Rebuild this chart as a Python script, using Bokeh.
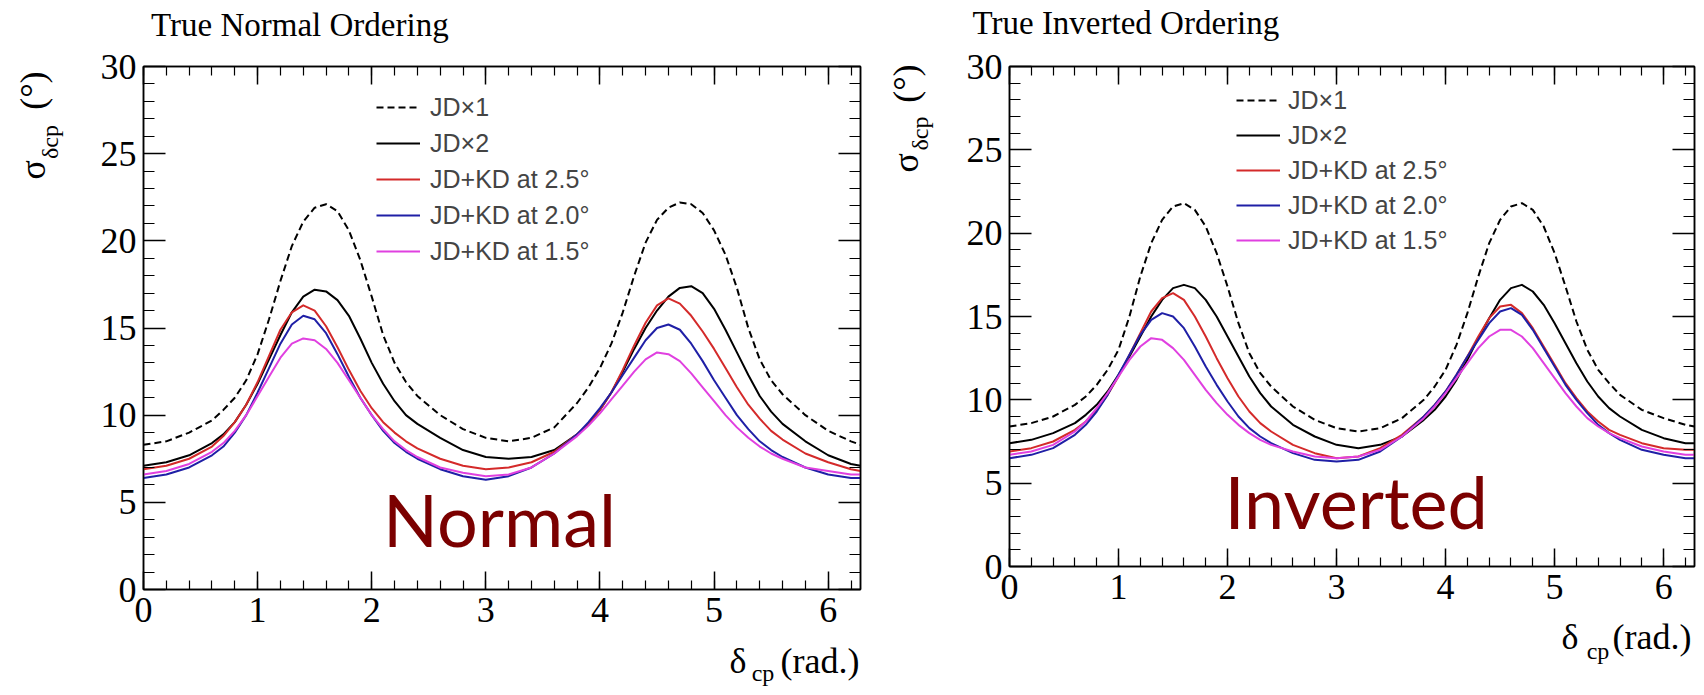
import numpy as np
from bokeh.plotting import figure
from bokeh.models import (Range1d, SingleIntervalTicker, FixedTicker, LinearAxis,
                          Label, Legend, LegendItem, Title)
from bokeh.layouts import row
from bokeh.embed import file_html
from bokeh.resources import INLINE

# ---------------- data ----------------
delta_cp = [0.0, 0.2, 0.4, 0.6, 0.7, 0.8, 0.9, 1.0, 1.1, 1.2, 1.3, 1.4, 1.5,
            1.6, 1.7, 1.8, 1.9, 2.0, 2.1, 2.2, 2.3, 2.4, 2.6, 2.8, 3.0, 3.2,
            3.4, 3.6, 3.8, 3.9, 4.0, 4.1, 4.2, 4.3, 4.4, 4.5, 4.6, 4.7, 4.8,
            4.9, 5.0, 5.1, 5.2, 5.3, 5.4, 5.5, 5.6, 5.8, 6.0, 6.2, 6.283]

series_labels = ["JD\u00d71", "JD\u00d72", "JD+KD at 2.5\u00b0",
                 "JD+KD at 2.0\u00b0", "JD+KD at 1.5\u00b0"]

# True Normal Ordering
no_jd1 = [8.3, 8.5, 9.0, 9.7, 10.3, 11.0, 12.0, 13.5, 15.5, 17.7, 19.7, 21.1,
          21.9, 22.1, 21.7, 20.6, 18.9, 16.8, 14.6, 13.0, 11.9, 11.1, 10.0,
          9.2, 8.7, 8.5, 8.7, 9.3, 10.7, 11.6, 12.7, 14.1, 15.9, 18.0, 19.9,
          21.2, 21.9, 22.2, 22.1, 21.6, 20.6, 19.2, 17.3, 15.0, 13.2, 12.0,
          11.2, 10.0, 9.1, 8.5, 8.3]
no_jd2 = [7.1, 7.3, 7.7, 8.4, 8.9, 9.6, 10.6, 11.8, 13.2, 14.6, 15.9, 16.8,
          17.2, 17.1, 16.6, 15.7, 14.4, 13.0, 11.8, 10.8, 10.0, 9.5, 8.7, 8.0,
          7.6, 7.5, 7.6, 8.0, 8.9, 9.5, 10.3, 11.3, 12.5, 13.8, 15.0, 16.0,
          16.8, 17.3, 17.4, 17.0, 16.1, 14.9, 13.6, 12.3, 11.1, 10.2, 9.5, 8.5,
          7.7, 7.2, 7.1]
no_kd25 = [6.9, 7.1, 7.5, 8.2, 8.8, 9.6, 10.6, 11.9, 13.4, 14.9, 15.9, 16.3,
           16.0, 15.1, 13.9, 12.6, 11.4, 10.4, 9.6, 9.0, 8.5, 8.1, 7.5, 7.1,
           6.9, 7.0, 7.3, 7.9, 8.9, 9.5, 10.3, 11.3, 12.6, 14.0, 15.3, 16.3,
           16.7, 16.4, 15.7, 14.8, 13.8, 12.7, 11.6, 10.6, 9.8, 9.1, 8.6, 7.8,
           7.3, 6.9, 6.8]
no_kd20 = [6.4, 6.6, 7.0, 7.7, 8.2, 9.0, 10.0, 11.3, 12.7, 14.1, 15.2, 15.7,
           15.5, 14.7, 13.5, 12.2, 11.0, 10.0, 9.1, 8.4, 7.9, 7.5, 6.9, 6.5,
           6.3, 6.5, 7.0, 7.8, 8.9, 9.6, 10.4, 11.3, 12.3, 13.3, 14.3, 15.0,
           15.2, 14.9, 14.1, 13.1, 12.0, 11.0, 10.0, 9.2, 8.5, 8.0, 7.6, 7.0,
           6.6, 6.4, 6.4]
no_kd15 = [6.6, 6.8, 7.2, 7.9, 8.4, 9.1, 10.0, 11.1, 12.2, 13.3, 14.1, 14.4,
           14.3, 13.8, 13.0, 12.0, 11.0, 10.0, 9.2, 8.5, 8.0, 7.6, 7.0, 6.7,
           6.5, 6.6, 7.0, 7.8, 8.8, 9.4, 10.1, 10.9, 11.7, 12.5, 13.2, 13.6,
           13.5, 13.1, 12.4, 11.6, 10.8, 10.0, 9.3, 8.7, 8.2, 7.8, 7.5, 7.0,
           6.8, 6.6, 6.6]

# True Inverted Ordering
io_jd1 = [8.4, 8.6, 9.0, 9.7, 10.2, 10.9, 11.8, 13.0, 15.0, 17.4, 19.4, 20.8,
          21.6, 21.8, 21.4, 20.4, 18.8, 16.8, 14.6, 12.8, 11.6, 10.8, 9.6, 8.8,
          8.3, 8.1, 8.3, 8.9, 10.0, 10.8, 11.8, 13.3, 15.2, 17.4, 19.4, 20.8,
          21.6, 21.8, 21.4, 20.4, 18.8, 16.8, 14.7, 13.0, 11.8, 11.0, 10.3, 9.4,
          8.9, 8.5, 8.4]
io_jd2 = [7.4, 7.6, 8.0, 8.6, 9.1, 9.7, 10.5, 11.5, 12.6, 13.8, 15.0, 16.0,
          16.7, 16.9, 16.7, 16.0, 15.0, 13.8, 12.6, 11.4, 10.4, 9.6, 8.5, 7.8,
          7.3, 7.1, 7.3, 7.8, 8.8, 9.4, 10.2, 11.2, 12.4, 13.7, 14.9, 16.0,
          16.7, 16.9, 16.5, 15.7, 14.6, 13.4, 12.2, 11.1, 10.2, 9.5, 9.0, 8.2,
          7.7, 7.4, 7.4]
io_kd25 = [6.9, 7.1, 7.5, 8.2, 8.7, 9.4, 10.3, 11.4, 12.7, 14.0, 15.3, 16.1,
           16.4, 16.0, 15.0, 13.8, 12.5, 11.3, 10.2, 9.3, 8.6, 8.1, 7.3, 6.8,
           6.5, 6.6, 7.1, 7.9, 9.0, 9.7, 10.5, 11.5, 12.6, 13.8, 14.9, 15.6,
           15.7, 15.2, 14.3, 13.2, 12.1, 11.0, 10.1, 9.3, 8.7, 8.2, 7.9, 7.4,
           7.1, 7.0, 7.0]
io_kd20 = [6.5, 6.7, 7.1, 7.9, 8.5, 9.3, 10.3, 11.5, 12.7, 13.9, 14.8, 15.2,
           15.0, 14.3, 13.2, 12.0, 10.9, 9.9, 9.0, 8.3, 7.8, 7.4, 6.8, 6.4,
           6.3, 6.4, 6.9, 7.8, 9.0, 9.7, 10.5, 11.5, 12.6, 13.6, 14.6, 15.3,
           15.5, 15.1, 14.2, 13.1, 12.0, 10.9, 10.0, 9.2, 8.5, 8.0, 7.6, 7.0,
           6.7, 6.5, 6.5]
io_kd15 = [6.7, 6.9, 7.3, 8.1, 8.7, 9.5, 10.4, 11.4, 12.4, 13.2, 13.7, 13.6,
           13.1, 12.4, 11.5, 10.6, 9.8, 9.1, 8.5, 8.0, 7.6, 7.3, 6.9, 6.6,
           6.5, 6.6, 7.0, 7.8, 8.9, 9.6, 10.4, 11.3, 12.2, 13.1, 13.8, 14.2,
           14.2, 13.8, 13.1, 12.2, 11.3, 10.4, 9.6, 8.9, 8.4, 8.0, 7.7, 7.2,
           6.9, 6.7, 6.7]

x_ticks_interval = 1
y_ticks_interval = 5

# ---------------- styling ----------------
SERIF = "Liberation Serif"
SANS = "Liberation Sans"
COLORS = ["black", "black", "#d42a2a", "#1f1fa6", "#e040e0"]
DASHES = ["7 4", "solid", "solid", "solid", "solid"]
NB = "\u00a0"   # non-collapsing space used to place axis-label text
THIN = "\u2009"


def style_axis(ax, interval, major_len, minor_len, labels=True):
    ax.ticker = SingleIntervalTicker(interval=interval, num_minor_ticks=5)
    ax.major_tick_in = major_len
    ax.major_tick_out = 0
    ax.minor_tick_in = minor_len
    ax.minor_tick_out = 0
    ax.axis_line_color = "black"
    ax.axis_line_width = 1.5
    ax.major_tick_line_color = "black"
    ax.major_tick_line_width = 1.5
    ax.minor_tick_line_color = "black"
    ax.minor_tick_line_width = 1.2
    if labels:
        ax.major_label_text_font = SERIF
        ax.major_label_text_font_size = "36px"
        ax.major_label_text_color = "black"
    else:
        ax.major_label_text_font_size = "1px"
        ax.major_label_text_color = None
        ax.major_label_standoff = 0


def set_axis_label(ax, text, size, standoff):
    ax.axis_label = text
    ax.axis_label_text_font = SERIF
    ax.axis_label_text_font_size = size
    ax.axis_label_text_font_style = "normal"
    ax.axis_label_text_color = "black"
    ax.axis_label_standoff = standoff


def label_axis(text, size, standoff):
    ax = LinearAxis(ticker=FixedTicker(ticks=[]))
    ax.axis_line_color = None
    ax.major_tick_line_color = None
    ax.minor_tick_line_color = None
    ax.major_tick_in = 0
    ax.major_tick_out = 0
    ax.minor_tick_in = 0
    ax.minor_tick_out = 0
    ax.major_label_standoff = 0
    set_axis_label(ax, text, size, standoff)
    return ax


def make_panel(ys, geo):
    for y in ys:
        assert len(y) == len(delta_cp)
    p = figure(frame_width=geo["fw"], frame_height=geo["fh"], title=None,
               min_border_left=geo["bl"], min_border_right=geo["br"],
               min_border_top=geo["bt"], min_border_bottom=geo["bb"],
               x_range=Range1d(0, 2 * np.pi), y_range=Range1d(0, 30),
               output_backend="svg", toolbar_location=None,
               background_fill_color="white", border_fill_color="white")
    p.grid.visible = False
    p.outline_line_color = "black"
    p.outline_line_width = 1.5

    xax, yax = p.xaxis[0], p.yaxis[0]
    style_axis(xax, x_ticks_interval, 18, 9)
    style_axis(yax, y_ticks_interval, 22, 11)
    xax.major_label_standoff = 8
    yax.major_label_standoff = 7
    top = LinearAxis()
    style_axis(top, x_ticks_interval, 18, 9, labels=False)
    right = LinearAxis()
    style_axis(right, y_ticks_interval, 22, 11, labels=False)
    p.add_layout(top, "above")
    p.add_layout(right, "right")

    # panel title
    if geo["title_mode"] == "title":
        # a blank 1px top-axis label lifts the title off the frame
        set_axis_label(top, NB, "1px", geo["title_lift"])
        t = Title(text=geo["title"], text_font=SERIF, text_font_size="33px",
                  text_font_style="normal", text_color="black", align="left",
                  offset=geo["title_offset"], standoff=0)
        p.add_layout(t, "above")
    else:
        # carried by the top axis, left-justified via a trailing pad
        set_axis_label(top, geo["title"] + NB * geo["title_pad"], "33px",
                       geo["title_standoff"])

    # y-axis title  sigma_{delta_cp} (deg)
    set_axis_label(yax, NB * geo["y_sub_pad"] + "\u03b4cp", "24px",
                   geo["y_sub_standoff"])
    p.add_layout(label_axis(NB * geo["y_main_pad"] + "\u03c3" + NB * 4 +
                            THIN * 2 + "(\u00b0)", "36px",
                            geo["y_main_standoff"]), "left")
    # x-axis title  delta_cp (rad.)
    set_axis_label(xax, NB * geo["x_main_pad"] + "\u03b4" + NB * 3 + THIN +
                   "(rad.)", "36px", geo["x_main_standoff"])
    p.add_layout(label_axis(NB * geo["x_sub_pad"] + "cp", "24px",
                            geo["x_sub_standoff"]), "below")

    items = []
    for y, lab, col, dash in zip(ys, series_labels, COLORS, DASHES):
        r = p.line(delta_cp, y, line_color=col, line_width=2, line_dash=dash,
                   line_join="round")
        items.append(LegendItem(label=lab, renderers=[r]))
    leg = Legend(items=items, location=geo["legend_loc"], padding=0, margin=0,
                 spacing=geo["leg_spacing"], glyph_width=44, glyph_height=30,
                 label_height=30, label_standoff=geo["leg_standoff"],
                 label_text_font=SANS, label_text_font_size="25px",
                 border_line_alpha=0, background_fill_alpha=0)
    p.add_layout(leg)

    # big ordering word
    p.add_layout(Label(x=geo["word_xy"][0], y=geo["word_xy"][1],
                       text=geo["word"], text_font="Lato",
                       text_font_size="72px", text_align="center",
                       text_baseline="alphabetic", text_color="#7b0000"))
    return p


geo_left = dict(fw=717, fh=523, bl=143, br=22, bt=66, bb=106,
                legend_loc=(233, 323), leg_spacing=6, leg_standoff=10,
                title="True Normal Ordering", title_mode="axis",
                title_pad=49, title_standoff=24,
                word="Normal", word_xy=(3.12, 4.03),
                y_sub_pad=62, y_sub_standoff=35,
                y_main_pad=45, y_main_standoff=-19,
                x_main_pad=65, x_main_standoff=16,
                x_sub_pad=87, x_sub_standoff=-24)
geo_right = dict(fw=685, fh=500, bl=125, br=12, bt=63, bb=132,
                 legend_loc=(227, 311), leg_spacing=5, leg_standoff=8,
                 title="True Inverted Ordering", title_mode="title",
                 title_offset=-37, title_lift=22,
                 word="Inverted", word_xy=(3.18, 3.95),
                 y_sub_pad=61, y_sub_standoff=31,
                 y_main_pad=44, y_main_standoff=-22,
                 x_main_pad=61, x_main_standoff=15,
                 x_sub_pad=82, x_sub_standoff=-22)

p1 = make_panel([no_jd1, no_jd2, no_kd25, no_kd20, no_kd15], geo_left)
p2 = make_panel([io_jd1, io_jd2, io_kd25, io_kd20, io_kd15], geo_right)

layout = row(p1, p2, spacing=0)
open("out.html", "w").write(file_html(layout, INLINE))
